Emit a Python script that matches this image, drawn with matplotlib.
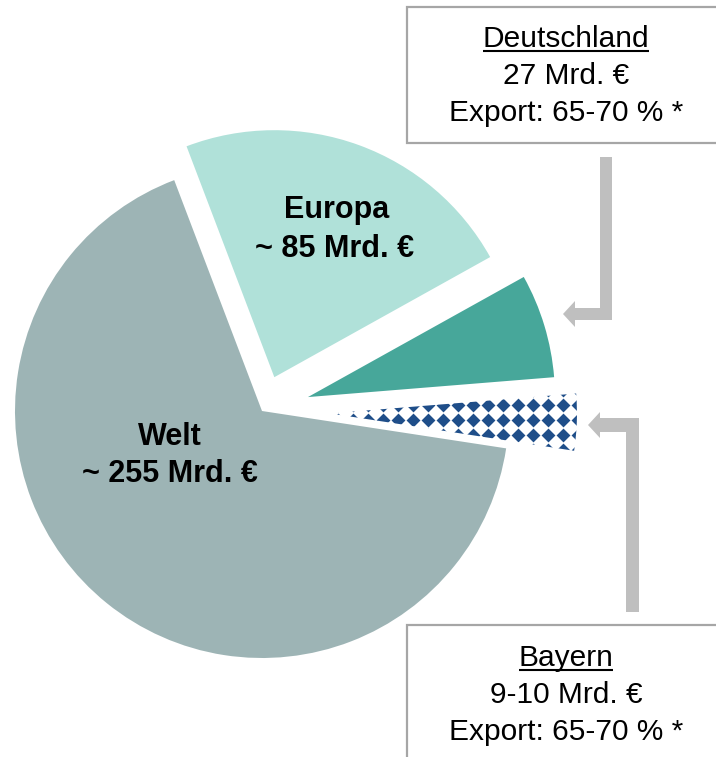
import matplotlib
matplotlib.use('Agg')
import matplotlib.pyplot as plt
import numpy as np
from matplotlib.patches import Rectangle, Polygon

plt.rcParams['font.family'] = ['Liberation Sans', 'DejaVu Sans']

# Anteile der Tortenstücke (Winkel, in Prozent)
regionen = ['Bayern', 'Deutschland', 'Europa', 'Welt']
anteile = [3.7, 6.8, 22.7, 66.8]
explode = [68, 48, 36, 0]  # in Pixeln, da radius=247 in Pixel-Koordinaten
farben = ['white', '#47A79A', '#B0E1D9', '#9DB4B5']
raute_farbe = '#1F4E89'

beschriftung = {'Welt': ['Welt', '~ 255 Mrd. €'],
                'Europa': ['Europa', '~ 85 Mrd. €']}
box_de = ['Deutschland', '27 Mrd. €', 'Export: 65-70 % *']
box_by = ['Bayern', '9-10 Mrd. €', 'Export: 65-70 % *']

W, H = 716, 757
fig = plt.figure(figsize=(W / 100, H / 100), dpi=100)
ax = fig.add_axes([0, 0, 1, 1])

def Y(y):  # Pixel von oben -> Datenkoordinate
    return H - y

wedges, _ = ax.pie(anteile, explode=explode, colors=farben, startangle=-8.7,
                   counterclock=True, center=(262, Y(411)), radius=247,
                   wedgeprops=dict(linewidth=0))
ax.set_xlim(0, W)
ax.set_ylim(0, H)
ax.set_aspect('equal')
ax.axis('off')

# Rautenmuster für Bayern
bay = wedges[0]
gx, gy = np.meshgrid(np.arange(308, 600, 15), np.arange(Y(375), Y(470), -15))
sc = ax.scatter(gx.ravel(), gy.ravel(), marker='D', s=50, c=raute_farbe,
                linewidths=0, zorder=3)
sc.set_clip_path(bay)

# Beschriftungen im Kuchen
ax.text(170, Y(445), beschriftung['Welt'][0], ha='center', va='baseline',
        fontsize=22, fontweight='bold')
ax.text(170, Y(482), beschriftung['Welt'][1], ha='center', va='baseline',
        fontsize=22, fontweight='bold')
ax.text(337, Y(218), beschriftung['Europa'][0], ha='center', va='baseline',
        fontsize=22, fontweight='bold')
ax.text(335, Y(257), beschriftung['Europa'][1], ha='center', va='baseline',
        fontsize=22, fontweight='bold')

# Kästen
ax.add_patch(Rectangle((407, Y(143)), 330, 136, facecolor='white',
                       edgecolor='#A6A6A6', lw=1.6, zorder=4))
ax.add_patch(Rectangle((407, Y(800)), 330, 175, facecolor='white',
                       edgecolor='#A6A6A6', lw=1.6, zorder=4))

titel = []
for zeilen, basis in [(box_de, 47), (box_by, 666)]:
    for i, z in enumerate(zeilen):
        t = ax.text(566, Y(basis + 37 * i), z, ha='center', va='baseline',
                    fontsize=21.5, zorder=5)
        if i == 0:
            titel.append(t)

# Unterstreichung der Überschriften
fig.canvas.draw()
r = fig.canvas.get_renderer()
for t in titel:
    bb = t.get_window_extent(renderer=r).transformed(ax.transData.inverted())
    yb = t.get_position()[1] - 4
    ax.plot([bb.x0, bb.x1], [yb, yb], color='black', lw=1.5, zorder=5,
            solid_capstyle='butt')

# Pfeile
pfeil_de = [(600, 157), (612, 157), (612, 320), (575, 320), (575, 327),
            (563, 314), (575, 301), (575, 308), (600, 308)]
pfeil_by = [(626, 612), (639, 612), (639, 418), (600, 418), (600, 412),
            (588, 425), (600, 438), (600, 432), (626, 432)]
for p in (pfeil_de, pfeil_by):
    ax.add_patch(Polygon([(x, Y(y)) for x, y in p], closed=True,
                         facecolor='#BFBFBF', edgecolor='none', zorder=2))

plt.savefig('out.png', dpi=100)
